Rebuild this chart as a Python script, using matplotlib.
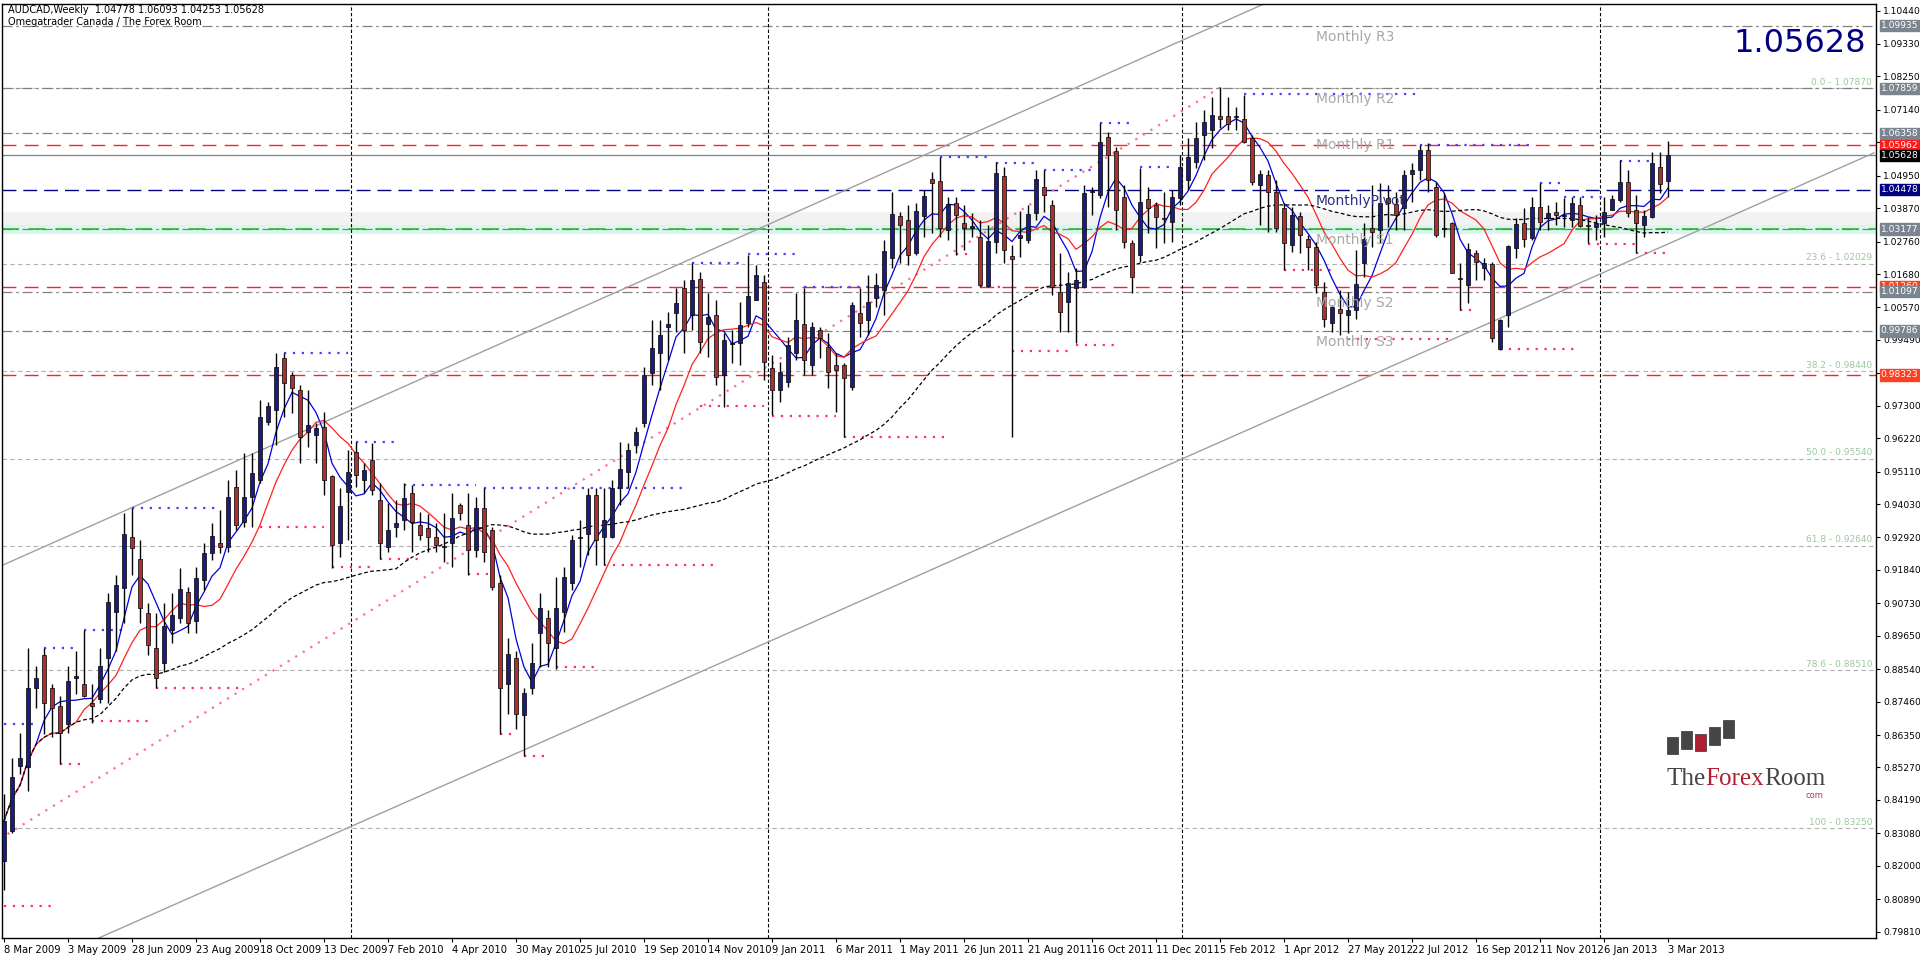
import numpy as np
import pandas as pd
import matplotlib
matplotlib.use("Agg")
import matplotlib.pyplot as plt
from matplotlib.patches import Rectangle
import matplotlib.transforms as mtrans

# ---------------- data ----------------
dates = ["8 Mar 2009","3 May 2009","28 Jun 2009","23 Aug 2009","18 Oct 2009","13 Dec 2009",
         "7 Feb 2010","4 Apr 2010","30 May 2010","25 Jul 2010","19 Sep 2010","14 Nov 2010",
         "9 Jan 2011","6 Mar 2011","1 May 2011","26 Jun 2011","21 Aug 2011","16 Oct 2011",
         "11 Dec 2011","5 Feb 2012","1 Apr 2012","27 May 2012","22 Jul 2012","16 Sep 2012",
         "11 Nov 2012","6 Jan 2013","3 Mar 2013"]

ohlc_rows = [
(0.8217,0.8440,0.8120,0.8350),(0.8317,0.8560,0.8310,0.8497),(0.8533,0.8643,0.8507,0.8557),
(0.8527,0.8923,0.8450,0.8793),(0.8790,0.8866,0.8726,0.8823),(0.8900,0.8926,0.8640,0.8743),
(0.8790,0.8806,0.8627,0.8726),(0.8733,0.8766,0.8540,0.8643),(0.8673,0.8866,0.8643,0.8813),
(0.8826,0.8916,0.8773,0.8830),(0.8806,0.8983,0.8760,0.8766),(0.8743,0.8806,0.8676,0.8733),
(0.8756,0.8923,0.8740,0.8866),(0.8890,0.9106,0.8740,0.9076),(0.9043,0.9166,0.8916,0.9135),
(0.9123,0.9372,0.9006,0.9305),(0.9292,0.9389,0.9166,0.9256),(0.9222,0.9282,0.9006,0.9056),
(0.9040,0.9073,0.8900,0.8933),(0.8926,0.9040,0.8790,0.8826),(0.8876,0.9073,0.8843,0.8999),
(0.8983,0.9106,0.8940,0.9033),(0.9023,0.9189,0.9006,0.9120),(0.9110,0.9126,0.8973,0.9006),
(0.9013,0.9193,0.8973,0.9156),(0.9150,0.9272,0.9116,0.9239),(0.9239,0.9339,0.9216,0.9296),
(0.9275,0.9382,0.9239,0.9259),(0.9259,0.9482,0.9243,0.9425),(0.9459,0.9515,0.9316,0.9332),
(0.9342,0.9572,0.9326,0.9425),(0.9425,0.9572,0.9326,0.9508),(0.9482,0.9749,0.9472,0.9692),
(0.9675,0.9742,0.9665,0.9729),(0.9715,0.9905,0.9599,0.9859),(0.9888,0.9905,0.9692,0.9805),
(0.9832,0.9842,0.9705,0.9788),(0.9782,0.9799,0.9539,0.9625),(0.9642,0.9782,0.9592,0.9665),
(0.9632,0.9672,0.9539,0.9655),(0.9659,0.9709,0.9432,0.9482),(0.9495,0.9499,0.9189,0.9266),
(0.9272,0.9455,0.9226,0.9395),(0.9442,0.9582,0.9282,0.9509),(0.9576,0.9609,0.9459,0.9499),
(0.9482,0.9539,0.9439,0.9515),(0.9549,0.9605,0.9432,0.9449),(0.9416,0.9472,0.9222,0.9272),
(0.9259,0.9405,0.9243,0.9316),(0.9326,0.9416,0.9292,0.9339),(0.9349,0.9472,0.9316,0.9422),
(0.9439,0.9465,0.9243,0.9342),(0.9332,0.9376,0.9282,0.9299),(0.9325,0.9370,0.9243,0.9295),
(0.9292,0.9339,0.9243,0.9266),(0.9259,0.9372,0.9209,0.9262),(0.9272,0.9439,0.9193,0.9356),
(0.9399,0.9405,0.9349,0.9372),(0.9332,0.9439,0.9166,0.9249),(0.9249,0.9425,0.9226,0.9389),
(0.9389,0.9455,0.9209,0.9243),(0.9316,0.9326,0.9116,0.9126),(0.9139,0.9166,0.8640,0.8793),
(0.8806,0.8956,0.8706,0.8906),(0.8890,0.8916,0.8656,0.8706),(0.8700,0.8793,0.8566,0.8776),
(0.8790,0.8940,0.8773,0.8873),(0.8973,0.9106,0.8860,0.9056),(0.9023,0.9050,0.8860,0.8940),
(0.8923,0.9159,0.8856,0.9056),(0.9043,0.9193,0.8976,0.9159),(0.9139,0.9299,0.9116,0.9282),
(0.9290,0.9349,0.9193,0.9292),(0.9305,0.9455,0.9232,0.9432),(0.9432,0.9455,0.9199,0.9282),
(0.9292,0.9455,0.9199,0.9349),(0.9292,0.9482,0.9289,0.9455),(0.9455,0.9609,0.9399,0.9519),
(0.9509,0.9605,0.9455,0.9582),(0.9599,0.9659,0.9572,0.9642),(0.9672,0.9859,0.9659,0.9832),
(0.9839,1.0015,0.9799,0.9922),(0.9905,1.0015,0.9782,0.9965),(0.9992,1.0042,0.9882,1.0002),
(1.0038,1.0122,0.9975,1.0072),(1.0122,1.0148,0.9905,0.9982),(1.0032,1.0205,0.9982,1.0148),
(1.0152,1.0175,0.9905,0.9942),(1.0002,1.0105,0.9892,1.0025),(1.0032,1.0082,0.9799,0.9825),
(0.9832,0.9972,0.9725,0.9948),(0.9935,0.9982,0.9872,0.9938),(0.9938,1.0075,0.9865,0.9999),
(1.0005,1.0232,0.9992,1.0095),(1.0082,1.0198,1.0082,1.0165),(1.0142,1.0165,0.9815,0.9875),
(0.9855,0.9899,0.9699,0.9782),(0.9782,0.9875,0.9742,0.9842),(0.9809,0.9958,0.9792,0.9932),
(0.9905,1.0105,0.9882,1.0015),(1.0002,1.0122,0.9832,0.9882),(0.9865,1.0008,0.9832,0.9992),
(0.9982,0.9992,0.9888,0.9955),(0.9925,0.9972,0.9789,0.9842),(0.9865,0.9905,0.9709,0.9849),
(0.9865,0.9872,0.9625,0.9822),(0.9792,1.0075,0.9782,1.0065),(1.0038,1.0122,0.9958,1.0005),
(1.0015,1.0165,0.9965,1.0075),(1.0088,1.0172,1.0060,1.0132),(1.0115,1.0282,1.0032,1.0245),
(1.0222,1.0441,1.0188,1.0368),(1.0361,1.0375,1.0205,1.0331),(1.0348,1.0398,1.0198,1.0232),
(1.0238,1.0405,1.0232,1.0378),(1.0361,1.0448,1.0292,1.0428),(1.0485,1.0508,1.0305,1.0471),
(1.0478,1.0558,1.0292,1.0322),(1.0315,1.0425,1.0282,1.0401),(1.0405,1.0425,1.0232,1.0365),
(1.0338,1.0398,1.0248,1.0322),(1.0322,1.0370,1.0290,1.0328),(1.0292,1.0348,1.0125,1.0132),
(1.0128,1.0332,1.0125,1.0278),(1.0275,1.0541,1.0238,1.0505),(1.0495,1.0525,1.0205,1.0248),
(1.0228,1.0265,0.9625,1.0218),(1.0288,1.0378,1.0225,1.0298),(1.0282,1.0398,1.0272,1.0368),
(1.0371,1.0515,1.0348,1.0485),(1.0458,1.0515,1.0375,1.0431),(1.0398,1.0415,1.0098,1.0125),
(1.0108,1.0238,0.9975,1.0042),(1.0075,1.0175,0.9975,1.0138),(1.0122,1.0188,0.9938,1.0148),
(1.0125,1.0465,1.0122,1.0438),(1.0440,1.0458,1.0365,1.0445),(1.0431,1.0671,1.0420,1.0608),
(1.0625,1.0641,1.0391,1.0564),(1.0578,1.0591,1.0315,1.0381),(1.0425,1.0465,1.0255,1.0275),
(1.0271,1.0282,1.0105,1.0158),(1.0232,1.0521,1.0208,1.0408),(1.0418,1.0458,1.0305,1.0388),
(1.0398,1.0408,1.0255,1.0358),(1.0355,1.0441,1.0272,1.0352),(1.0341,1.0448,1.0275,1.0425),
(1.0421,1.0565,1.0398,1.0525),(1.0481,1.0621,1.0448,1.0558),(1.0541,1.0674,1.0520,1.0621),
(1.0631,1.0714,1.0548,1.0674),(1.0648,1.0758,1.0588,1.0698),(1.0694,1.0791,1.0654,1.0684),
(1.0694,1.0758,1.0648,1.0668),(1.0690,1.0724,1.0648,1.0694),(1.0684,1.0764,1.0604,1.0608),
(1.0621,1.0631,1.0465,1.0475),(1.0465,1.0515,1.0331,1.0501),(1.0498,1.0515,1.0308,1.0441),
(1.0441,1.0481,1.0308,1.0322),(1.0388,1.0405,1.0181,1.0271),(1.0265,1.0391,1.0241,1.0365),
(1.0361,1.0375,1.0238,1.0298),(1.0285,1.0298,1.0181,1.0258),(1.0258,1.0275,1.0105,1.0132),
(1.0108,1.0142,0.9992,1.0018),(1.0005,1.0065,0.9975,1.0058),(1.0052,1.0115,0.9965,1.0038),
(1.0032,1.0108,0.9972,1.0048),(1.0048,1.0248,1.0020,1.0135),(1.0205,1.0338,1.0158,1.0285),
(1.0322,1.0465,1.0258,1.0308),(1.0315,1.0471,1.0272,1.0405),(1.0421,1.0465,1.0325,1.0405),
(1.0401,1.0441,1.0315,1.0365),(1.0388,1.0515,1.0315,1.0498),(1.0501,1.0538,1.0408,1.0515),
(1.0515,1.0598,1.0481,1.0581),(1.0581,1.0604,1.0441,1.0481),(1.0458,1.0475,1.0292,1.0298),
(1.0318,1.0438,1.0292,1.0318),(1.0338,1.0341,1.0171,1.0171),(1.0155,1.0205,1.0048,1.0152),
(1.0132,1.0272,1.0072,1.0251),(1.0238,1.0248,1.0148,1.0208),(1.0188,1.0221,1.0148,1.0205),
(1.0201,1.0208,0.9942,0.9955),(0.9918,1.0020,0.9915,1.0015),(1.0032,1.0265,0.9992,1.0261),
(1.0255,1.0355,1.0221,1.0335),(1.0338,1.0388,1.0258,1.0285),(1.0288,1.0425,1.0282,1.0392),
(1.0392,1.0471,1.0315,1.0341),(1.0355,1.0398,1.0315,1.0372),(1.0375,1.0408,1.0331,1.0365),
(1.0360,1.0421,1.0325,1.0365),(1.0348,1.0425,1.0325,1.0405),(1.0398,1.0425,1.0325,1.0328),
(1.0330,1.0358,1.0272,1.0328),(1.0325,1.0365,1.0282,1.0338),(1.0338,1.0425,1.0292,1.0375),
(1.0381,1.0431,1.0381,1.0418),(1.0415,1.0548,1.0408,1.0475),(1.0475,1.0515,1.0358,1.0371),
(1.0381,1.0431,1.0238,1.0338),(1.0331,1.0381,1.0292,1.0361),(1.0358,1.0574,1.0355,1.0538),
(1.0525,1.0574,1.0438,1.0468),(1.04778,1.06093,1.04253,1.05628),
]
opens = [r[0] for r in ohlc_rows]
highs = [r[1] for r in ohlc_rows]
lows = [r[2] for r in ohlc_rows]
closes = [r[3] for r in ohlc_rows]

ytick_vals = [1.10440,1.09330,1.08250,1.07140,1.06060,1.04950,1.03870,1.02760,1.01680,1.00570,
              0.99490,0.98390,0.97300,0.96220,0.95110,0.94030,0.92920,0.91840,0.90730,0.89650,
              0.88540,0.87460,0.86350,0.85270,0.84190,0.83080,0.82000,0.80890,0.79810]

pivot_names = ["Monthly R3","Monthly R2","Monthly R1","MonthlyPivot","Monthly S1","Monthly S2","Monthly S3"]
pivot_vals = [1.09935,1.07859,1.06358,1.04478,1.03177,1.01097,0.99786]
red_levels = [1.05962,1.01260,0.98323]
bid = 1.05628

fib_pct = ["0.0","23.6","38.2","50.0","61.8","78.6","100"]
fib_vals = [1.07870,1.02029,0.98440,0.95540,0.92640,0.88510,0.83250]

swing_highs = [(0,4,0.8673),(5,9,0.8926),(10,15,0.8983),(16,27,0.9389),(35,43,0.9905),(44,49,0.9609),
               (50,59,0.9465),(60,85,0.9455),(86,92,1.0205),(93,99,1.0235),(100,109,1.0125),
               (117,123,1.0558),(124,129,1.0538),(130,136,1.0515),(137,141,1.0671),(142,146,1.0525),
               (155,177,1.0768),(177,191,1.0598),(192,195,1.0471),(195,200,1.0425),(202,206,1.0545)]
swing_lows = [(0,6,0.8067),(7,10,0.8540),(11,18,0.8680),(19,30,0.8790),(32,40,0.9326),(41,46,0.9193),
              (47,52,0.9222),(58,61,0.9172),(62,64,0.8640),(65,68,0.8566),(69,74,0.8860),(75,89,0.9202),
              (87,95,0.9729),(96,104,0.9695),(105,118,0.9625),(119,121,1.0235),(122,125,1.0125),
              (126,133,0.9912),(134,139,0.9932),(160,166,1.0181),(168,181,0.9952),(182,184,1.0048),
              (187,197,0.9919),(198,204,1.0268),(204,208,1.0238)]

channel_upper = [(-0.5, 0.9196), (158.75, 1.1081)]
channel_lower = [(11.0, 0.7950), (233.75, 1.0571)]
trend_pink = [(-0.5, 0.8290), (152.0, 1.0788)]
year_breaks = [43.4, 95.5, 147.3, 199.5]

# ---------------- figure ----------------
W, H = 1920, 958
fig = plt.figure(figsize=(W/100, H/100), dpi=100)
fig.patch.set_facecolor("white")
ax = fig.add_axes([2/W, (H-938)/H, 1874/W, 934/H])
ax.set_xlim(-0.25, 234)
ax.set_ylim(0.7960, 1.1066)

n = len(closes)
x = np.arange(n)
o = np.array(opens); h = np.array(highs); l = np.array(lows); c = np.array(closes)

ax.axhspan(1.0305, 1.0330, color="#d8f5ee", zorder=0)
ax.axhspan(1.0335, 1.0375, color="#f2f2f2", zorder=0)

for v in fib_vals:
    ax.axhline(v, color="#b0b0b0", lw=0.8, ls=(0, (4, 3)), zorder=1)
for nm, v in zip(pivot_names, pivot_vals):
    if nm == "MonthlyPivot":
        ax.axhline(v, color="#000080", lw=1.0, ls=(0, (10, 5)), zorder=1)
    else:
        ax.axhline(v, color="#808080", lw=0.9, ls=(0, (8, 3, 2, 3)), zorder=1)
for v in red_levels:
    ax.axhline(v, color="#ff2020", lw=1.0, ls=(0, (10, 6)), zorder=1)
ax.axhline(1.03177, color="#30b030", lw=1.2, ls=(0, (10, 6)), zorder=1)
ax.axhline(bid, color="#808080", lw=0.9, zorder=1)

for xb in year_breaks:
    ax.axvline(xb, color="black", lw=0.8, ls=(0, (3, 2)), zorder=1)

ax.plot(*zip(*channel_upper), color="#a0a0a0", lw=1.0, zorder=2)
ax.plot(*zip(*channel_lower), color="#a0a0a0", lw=1.0, zorder=2)
ax.plot(*zip(*trend_pink), color="#ff7090", lw=1.6, ls=(0, (1, 3)), zorder=2)

for a, b, v in swing_highs:
    ax.plot([a, b], [v, v], color="#4040ff", lw=1.6, ls=(0, (1, 3)), zorder=2)
for a, b, v in swing_lows:
    ax.plot([a, b], [v, v], color="#ff3060", lw=1.6, ls=(0, (1, 3)), zorder=2)

cs = pd.Series(c)
ax.plot(x, cs.rolling(5, min_periods=1).mean(), color="#0000dd", lw=0.9, zorder=3)
ax.plot(x, cs.rolling(10, min_periods=1).mean(), color="#ff2020", lw=0.9, zorder=3)
ax.plot(x, cs.rolling(50, min_periods=1).mean(), color="black", lw=0.9, ls=(0, (3, 2)), zorder=3)

ax.vlines(x, l, h, color="black", lw=1.0, zorder=4)
up = c >= o
bottoms = np.minimum(o, c)
heights = np.maximum(np.abs(c - o), 0.00025)
ax.bar(x[up], heights[up], bottom=bottoms[up], width=0.62, color="#1c1c7c",
       edgecolor="black", lw=0.5, zorder=5)
ax.bar(x[~up], heights[~up], bottom=bottoms[~up], width=0.62, color="#a83232",
       edgecolor="black", lw=0.5, zorder=5)

for nm, v in zip(pivot_names, pivot_vals):
    col = "#303080" if nm == "MonthlyPivot" else "#a8a8a8"
    ax.annotate(nm, (164, v), xytext=(0, -3), textcoords="offset points",
                va="top", ha="left", fontsize=10, color=col, zorder=6)
for p, v in zip(fib_pct, fib_vals):
    ax.annotate(f"{p} - {v:.5f}", (233.5, v), xytext=(0, 1), textcoords="offset points",
                va="bottom", ha="right", fontsize=6.5, color="#9cc89c", zorder=6)

ax.yaxis.tick_right()
ax.set_yticks(ytick_vals)
ax.set_yticklabels([f"{v:.5f}" for v in ytick_vals], fontsize=6.6)
ax.set_xticks(np.arange(0, 209, 8))
ax.set_xticklabels(dates, fontsize=7.2, ha="left")
ax.tick_params(axis="x", length=3, pad=2)
ax.tick_params(axis="y", length=3, pad=2)
for s in ax.spines.values():
    s.set_linewidth(1.0)

tr = mtrans.blended_transform_factory(ax.transAxes, ax.transData)
boxes = [(1.09935, "#7b8590"), (1.07859, "#7b8590"), (1.06358, "#7b8590"), (1.05962, "#ff1a1a"),
         (bid, "black"), (1.04478, "#000080"), (1.03177, "#7b8590"), (1.01260, "#ff4020"),
         (1.01097, "#7b8590"), (0.99786, "#7b8590"), (0.98323, "#ff4020")]
for v, col in boxes:
    ax.text(1.0025, v, f"{v:.5f}", transform=tr, fontsize=6.6, color="white", va="center",
            ha="left", bbox=dict(boxstyle="square,pad=0.12", fc=col, ec=col), zorder=7,
            clip_on=False)

fig.text(8/W, 1-10/H, "AUDCAD,Weekly  1.04778 1.06093 1.04253 1.05628", fontsize=7, va="center")
fig.text(8/W, 1-22/H, "Omegatrader Canada / The Forex Room", fontsize=7, va="center")
fig.text(1866/W, 1-44/H, f"{bid:.5f}", fontsize=23, color="#000080", ha="right", va="center")

lax = fig.add_axes([1660/W, (H-795)/H, 170/W, 80/H])
lax.set_xlim(1660, 1830); lax.set_ylim(795, 715); lax.axis("off")
for (x0, yt, yb, colr) in [(1667, 737, 754, "#454545"), (1681, 731, 749, "#454545"),
                           (1695, 734, 751, "#b02030"), (1709, 727, 745, "#454545"),
                           (1723, 720, 738, "#454545")]:
    lax.add_patch(Rectangle((x0, yt), 11, yb - yt, fc=colr, ec="#333333", lw=0.5))
t1 = lax.text(1666, 785, "The", fontsize=18, family="Liberation Serif", color="#454545", va="baseline")
t2 = lax.annotate("Forex", xy=(1, 0), xycoords=t1, fontsize=18, family="Liberation Serif",
                  color="#b02030", va="bottom", ha="left")
t3 = lax.annotate("Room", xy=(1, 0), xycoords=t2, fontsize=18, family="Liberation Serif",
                  color="#454545", va="bottom", ha="left")
lax.annotate("com", xy=(1, 0), xycoords=t3, xytext=(-14, -7), textcoords="offset points",
             fontsize=6, color="#c03050", va="bottom", ha="left")

fig.savefig("out.png", dpi=100)
